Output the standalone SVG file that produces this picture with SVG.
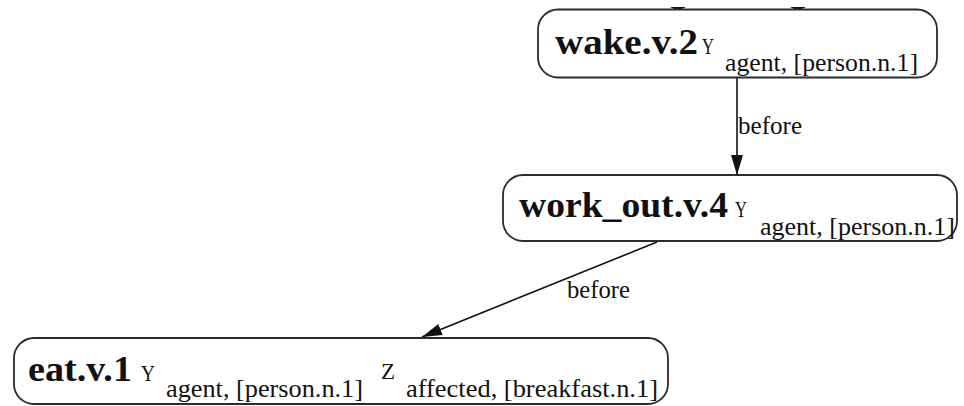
<svg xmlns="http://www.w3.org/2000/svg" width="964" height="406" viewBox="0 0 964 406">
  <defs>
    <style>
      .node rect { fill: #ffffff; stroke: #2b2b2b; stroke-width: 1.8; }
      .head { font-family: "Liberation Serif", "Times New Roman", serif; font-weight: bold; font-size: 35px; fill: #111; }
      .var { font-family: "Liberation Serif", "Times New Roman", serif; font-size: 23px; fill: #111; }
      .sub { font-family: "Liberation Serif", "Times New Roman", serif; font-size: 26px; fill: #111; }
      .edge { stroke: #111; stroke-width: 1.6; fill: none; }
      .elabel { font-family: "Liberation Serif", "Times New Roman", serif; font-size: 25px; fill: #111; }
      .tip { fill: #111; }
    </style>
    <marker id="arrow" viewBox="0 0 20 12" refX="20" refY="6" markerWidth="20" markerHeight="12" markerUnits="userSpaceOnUse" orient="auto">
      <path d="M0,0 L20,6 L0,12 Z" fill="#111"/>
    </marker>
  </defs>

  <rect width="964" height="406" fill="#ffffff"/>

  <g id="connectors">
    <!-- tips of incoming edges at the top of wake.v.2 -->
    <path class="tip" d="M670,7 L686,7 L678,11 Z"/>
    <path class="tip" d="M790,7 L806,7 L798,11 Z"/>
    <line class="edge" x1="737" y1="78" x2="737" y2="175" marker-end="url(#arrow)"/>
    <text class="elabel" x="738" y="134" textLength="64" lengthAdjust="spacingAndGlyphs">before</text>
    <line class="edge" x1="657" y1="242" x2="422" y2="337" marker-end="url(#arrow)"/>
    <text class="elabel" x="567" y="298" textLength="63" lengthAdjust="spacingAndGlyphs">before</text>
  </g>

  <g id="wake" class="node">
    <rect x="538" y="9.5" width="399" height="68" rx="20" ry="20"/>
    <text class="head" x="555" y="54" textLength="143" lengthAdjust="spacingAndGlyphs">wake.v.2</text>
    <text class="var" x="702" y="54" textLength="12" lengthAdjust="spacingAndGlyphs">Y</text>
    <text class="sub" x="725" y="71" textLength="193" lengthAdjust="spacingAndGlyphs">agent, [person.n.1]</text>
  </g>

  <g id="work_out" class="node">
    <rect x="503" y="175" width="454" height="66" rx="20" ry="20"/>
    <text class="head" x="519" y="217" textLength="209" lengthAdjust="spacingAndGlyphs">work_out.v.4</text>
    <text class="var" x="735" y="217" textLength="12" lengthAdjust="spacingAndGlyphs">Y</text>
    <text class="sub" x="760" y="235" textLength="195" lengthAdjust="spacingAndGlyphs">agent, [person.n.1]</text>
  </g>

  <g id="eat" class="node">
    <rect x="14" y="338" width="654" height="66" rx="20" ry="20"/>
    <text class="head" x="28" y="381" textLength="104" lengthAdjust="spacingAndGlyphs">eat.v.1</text>
    <text class="var" x="141" y="381" textLength="14" lengthAdjust="spacingAndGlyphs">Y</text>
    <text class="sub" x="166" y="397" textLength="197" lengthAdjust="spacingAndGlyphs">agent, [person.n.1]</text>
    <text class="var" x="381" y="379" textLength="14" lengthAdjust="spacingAndGlyphs">Z</text>
    <text class="sub" x="406" y="397" textLength="252" lengthAdjust="spacingAndGlyphs">affected, [breakfast.n.1]</text>
  </g>
</svg>
